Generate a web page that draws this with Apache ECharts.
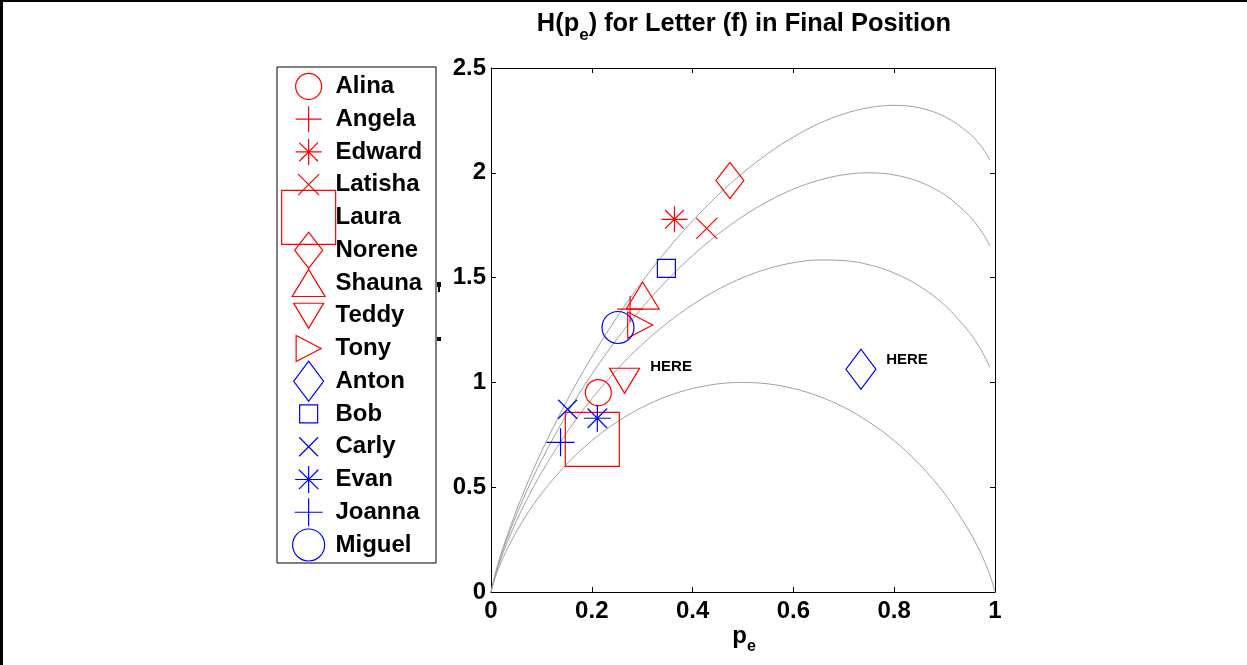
<!DOCTYPE html>
<html>
<head>
<meta charset="utf-8">
<script src="https://cdn.jsdelivr.net/npm/echarts@6/dist/echarts.min.js"></script>
<style>
html,body{margin:0;padding:0;background:#fff;}
#chart{width:1247px;height:665px;}
</style>
</head>
<body>
<div id="chart"></div>
<script>
// ---- data ----
const names = ['Alina','Angela','Edward','Latisha','Laura','Norene','Shauna','Teddy','Tony','Anton','Bob','Carly','Evan','Joanna','Miguel'];
const peValues = [0.213,0.276,0.364,0.428,0.201,0.474,0.301,0.265,0.296,0.734,0.348,0.152,0.211,0.138,0.252];
const hValues  = [0.951,1.350,1.778,1.735,0.728,1.963,1.414,1.008,1.274,1.063,1.544,0.872,0.829,0.714,1.262];

const noteText = ['HERE','HERE'];
const noteX = [0.316,0.784];
const noteY = [1.073,1.107];

// reference curves H(pe)
const pGrid = [0,0.01,0.02,0.03,0.05,0.07,0.1,0.15,0.2,0.25,0.3,0.35,0.4,0.45,0.5,0.55,0.6,0.65,0.7,0.75,0.8,0.85,0.9,0.95,0.97,0.98,0.99,1];
const curve2 = [0,0.0808,0.1414,0.1944,0.2864,0.3659,0.4690,0.6098,0.7219,0.8113,0.8813,0.9341,0.9710,0.9928,1.0,0.9928,0.9710,0.9341,0.8813,0.8113,0.7219,0.6098,0.4690,0.2864,0.1944,0.1414,0.0808,0];
const curve3 = [0,0.0908,0.1614,0.2244,0.3364,0.4359,0.5690,0.7598,0.9219,1.0613,1.1813,1.2841,1.3710,1.4428,1.5,1.5428,1.5710,1.5841,1.5813,1.5613,1.5219,1.4598,1.3690,1.2364,1.1644,1.1214,1.0708,null];
const curve4 = [0,0.0967,0.1731,0.2419,0.3656,0.4769,0.6275,0.8475,1.0389,1.2075,1.3568,1.4888,1.6050,1.7060,1.7925,1.8645,1.9220,1.9643,1.9908,2.0000,1.9899,1.9570,1.8955,1.7921,1.7318,1.6947,1.6499,null];
const curve5 = [0,0.1008,0.1814,0.2544,0.3864,0.5059,0.6690,0.9098,1.1219,1.3113,1.4813,1.6341,1.7710,1.8928,2.0,2.0928,2.1710,2.2341,2.2813,2.3113,2.3219,2.3098,2.2690,2.1864,2.1344,2.1014,2.0608,null];

// ---- styles ----
const RED = '#ff0000', BLUE = '#0000ff';
const P_PLUS = 'path://M0 -1 L0 1 M-1 0 L1 0';
const P_X = 'path://M-1 -1 L1 1 M-1 1 L1 -1';
const P_AST = 'path://M0 -1 L0 1 M-1 0 L1 0 M-0.72 -0.72 L0.72 0.72 M-0.72 0.72 L0.72 -0.72';
const P_UP = 'path://M0 -1 L1 1 L-1 1 Z';
const P_DOWN = 'path://M-1 -1 L1 -1 L0 1 Z';
const P_RIGHT = 'path://M-1 -1 L1 0 L-1 1 Z';
const symbols = ['circle',P_PLUS,P_AST,P_X,'rect','diamond',P_UP,P_DOWN,P_RIGHT,'diamond','rect',P_X,P_AST,P_PLUS,'circle'];
const symbolSizes = [26,26,26,21,54,[28,36],[33,27],[30,25],[25,26],[30,40],18,19,27,28,32];
const colors = [RED,RED,RED,RED,RED,RED,RED,RED,RED,BLUE,BLUE,BLUE,BLUE,BLUE,BLUE];

const FONT = 'Liberation Sans, Arial, sans-serif';

function markerItem(i, x, y){
  return {
    name: names[i],
    value: [x, y],
    symbol: symbols[i],
    symbolSize: symbolSizes[i],
    itemStyle: {color: 'rgba(255,255,255,0)', borderColor: colors[i], borderWidth: 1.2, opacity: 1}
  };
}

const plotData = names.map((n,i)=>markerItem(i, peValues[i], hValues[i]));
const legendMarkers = names.map((n,i)=>markerItem(i, 0.199, i));
const legendLabels = names.map((n,i)=>({name:n, value:[0.368, i]}));
const noteData = noteText.map((t,i)=>({name:t, value:[noteX[i], noteY[i]]}));

function curveSeries(arr){
  return {
    type:'line', xAxisIndex:0, yAxisIndex:0,
    data: pGrid.map((p,i)=>[p, arr[i]]).filter(d=>d[1]!==null),
    showSymbol:false, symbol:'none', smooth:0.35, silent:true,
    lineStyle:{color:'#a0a0a0', width:1}, z:1
  };
}

const axisLineStyle = {show:true, onZero:false, lineStyle:{color:'#000', width:1}};
const tickStyle = {show:true, inside:true, length:5, lineStyle:{color:'#000', width:1}};
const labelStyle = {color:'#000', fontSize:24, fontWeight:'bold', fontFamily:FONT};

const option = {
  animation:false,
  backgroundColor:'#fff',
  grid:[
    {left:491, top:68, width:504, height:524, containLabel:false},
    {left:277, top:67, width:159, height:496, show:true, borderColor:'#000', borderWidth:1, backgroundColor:'#fff', z:5}
  ],
  xAxis:[
    {gridIndex:0, type:'value', min:0, max:1, interval:0.2, position:'bottom',
     axisLine:axisLineStyle, axisTick:tickStyle, splitLine:{show:false},
     axisLabel:Object.assign({margin:7}, labelStyle)},
    {gridIndex:0, type:'value', min:0, max:1, interval:0.2, position:'top',
     axisLine:axisLineStyle, axisTick:tickStyle, splitLine:{show:false}, axisLabel:{show:false}},
    {gridIndex:1, type:'value', min:0, max:1, show:false}
  ],
  yAxis:[
    {gridIndex:0, type:'value', min:0, max:2.5, interval:0.5, position:'left',
     axisLine:axisLineStyle, axisTick:tickStyle, splitLine:{show:false},
     axisLabel:Object.assign({margin:5}, labelStyle)},
    {gridIndex:0, type:'value', min:0, max:2.5, interval:0.5, position:'right',
     axisLine:axisLineStyle, axisTick:tickStyle, splitLine:{show:false}, axisLabel:{show:false}},
    {gridIndex:1, type:'value', min:-0.593, max:14.55, inverse:true, show:false}
  ],
  series:[
    curveSeries(curve2), curveSeries(curve3), curveSeries(curve4), curveSeries(curve5),
    {type:'scatter', xAxisIndex:0, yAxisIndex:0, data:plotData, silent:true, z:3, itemStyle:{opacity:1}},
    {type:'scatter', xAxisIndex:0, yAxisIndex:0, data:noteData, symbolSize:0, silent:true, z:3, itemStyle:{opacity:1},
     label:{show:true, position:'right', distance:0, formatter:p=>p.name, color:'#000', fontSize:15, fontWeight:'bold', fontFamily:FONT}},
    {type:'scatter', xAxisIndex:2, yAxisIndex:2, data:legendMarkers, silent:true, z:6, itemStyle:{opacity:1}},
    {type:'scatter', xAxisIndex:2, yAxisIndex:2, data:legendLabels, symbolSize:0, silent:true, z:6, itemStyle:{opacity:1},
     label:{show:true, position:'right', distance:0, formatter:p=>p.name, color:'#000', fontSize:24, fontWeight:'bold', fontFamily:FONT}}
  ],
  graphic:[
    {type:'rect', shape:{x:0, y:0, width:1247, height:2}, style:{fill:'#000'}, silent:true},
    {type:'rect', shape:{x:0, y:0, width:3, height:665}, style:{fill:'#000'}, silent:true},
    {type:'rect', shape:{x:437, y:282, width:4, height:5}, style:{fill:'#000'}, silent:true},
    {type:'rect', shape:{x:438, y:287, width:2, height:5}, style:{fill:'#000'}, silent:true},
    {type:'rect', shape:{x:437, y:337, width:4, height:4}, style:{fill:'#000'}, silent:true},
    {type:'text', x:744, y:24, silent:true,
     style:{text:'{a|H(p}{s|e}{a|) for Letter (f) in Final Position}', align:'center', verticalAlign:'middle',
       rich:{a:{fontSize:25.4, fontWeight:'bold', fontFamily:FONT, fill:'#000'},
             s:{fontSize:17, fontWeight:'bold', fontFamily:FONT, fill:'#000', padding:[22,0,0,0]}}}},
    {type:'text', x:744, y:636, silent:true,
     style:{text:'{a|p}{s|e}', align:'center', verticalAlign:'middle',
       rich:{a:{fontSize:24, fontWeight:'bold', fontFamily:FONT, fill:'#000'},
             s:{fontSize:16, fontWeight:'bold', fontFamily:FONT, fill:'#000', padding:[22,0,0,0]}}}}
  ]
};

const chart = echarts.init(document.getElementById('chart'), null, {renderer:'canvas'});
chart.setOption(option);
</script>
</body>
</html>
